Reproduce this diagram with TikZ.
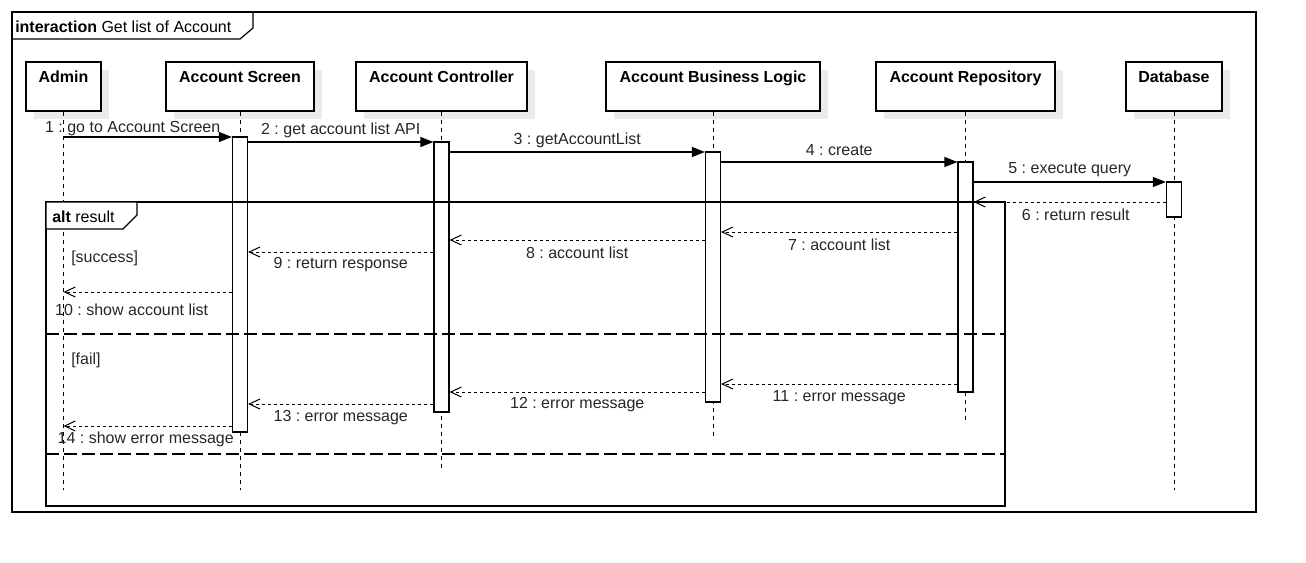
\documentclass[tikz,border=0pt]{standalone}
\usepackage{fontspec}
\setmainfont{Liberation Sans}
\usetikzlibrary{arrows.meta,shadows}
\frenchspacing
\newcommand{\seqfont}{\fontsize{12}{14}\selectfont}
\tikzset{
  head/.style={ draw, fill=white, line width=0.9pt, minimum height=36.75pt, inner sep=0pt,
    drop shadow={shadow xshift=6pt, shadow yshift=-6pt, fill=black!8, opacity=1} }
}
\tikzset{
  headtxt/.style={ font=\seqfont\bfseries, anchor=center, text height=8.6pt, text depth=0pt,
    inner sep=0pt, yshift=-11.5pt }
}
\tikzset{
  act/.style={ draw, fill=white, line width=0.9pt, minimum width=11.25pt, inner sep=0pt }
}
\tikzset{
  lifeline/.style={ line width=0.75pt, dash pattern=on 3pt off 3pt }
}
\tikzset{
  sync/.style={ line width=0.9pt, -{Triangle[length=9.75pt, width=7.5pt]} },
  reply/.style={ line width=0.75pt, dash pattern=on 2.25pt off 2.25pt,
    -{Straight Barb[length=8pt, width=7.5pt]} },
  lbl/.style={ midway, text=black!85, inner sep=1pt },
  frame/.style={ line width=0.9pt },
  sep/.style={ line width=0.9pt, dash pattern=on 9.75pt off 3.75pt }
}

\begin{document}
\begin{tikzpicture}[x=0.75pt, y=-0.75pt, every node/.style={font=\seqfont}]
  \useasboundingbox (0,0) rectangle (1306,562);
  % lifeline heads
  \node[head, minimum width=56.25pt, label={[headtxt]north:Admin}] (admin) at (63.5,86.5) {};
  \node[head, minimum width=111pt, label={[headtxt]north:Account Screen}] (screen) at (240,86.5) {};
  \node[head, minimum width=128.25pt, label={[headtxt]north:Account Controller}] (ctrl) at (441.5,86.5) {};
  \node[head, minimum width=160.5pt, label={[headtxt]north:Account Business Logic}] (logic) at (713,86.5) {};
  \node[head, minimum width=134.25pt, label={[headtxt]north:Account Repository}] (repo) at (965.5,86.5) {};
  \node[head, minimum width=72pt, label={[headtxt]north:Database}] (db) at (1174,86.5) {};
  % lifelines
  \coordinate (adminEnd) at (63.5,490);
  \coordinate (screenEnd) at (240,490);
  \coordinate (ctrlEnd) at (441.5,468);
  \coordinate (logicEnd) at (713,438);
  \coordinate (repoEnd) at (965.5,422);
  \coordinate (dbEnd) at (1174,490);
  \draw[lifeline] (admin.south) -- (adminEnd);
  \draw[lifeline] (screen.south) -- (screenEnd);
  \draw[lifeline] (ctrl.south) -- (ctrlEnd);
  \draw[lifeline] (logic.south) -- (logicEnd);
  \draw[lifeline] (repo.south) -- (repoEnd);
  \draw[lifeline] (db.south) -- (dbEnd);
  % activations
  \node[act, minimum height=221.25pt] (screenAct) at (240,284.5) {};
  \node[act, minimum height=202.5pt] (ctrlAct) at (441.5,277) {};
  \node[act, minimum height=187.5pt] (logicAct) at (713,277) {};
  \node[act, minimum height=172.5pt] (repoAct) at (965.5,277) {};
  \node[act, minimum height=26.25pt] (dbAct) at (1174,199.5) {};
  % frames
  \draw[frame] (12,12) rectangle (1256,512);
  \draw[frame] (12,39) -- (240,39) -- (253,28) -- (253,12);
  \node[anchor=west, inner sep=0pt] (title) at (15,26.5) {\textbf{interaction} Get list of Account};
  \draw[frame] (46,202) rectangle (1005,506);
  \filldraw[frame, fill=white] (46,202) -- (137,202) -- (137,215) -- (123,229) -- (46,229) -- cycle;
  \node[anchor=west, inner sep=0pt] (altTitle) at (52,216.5) {\textbf{alt} result};
  \draw[sep] (46,334) -- (1005,334);
  \draw[sep] (46,454) -- (1005,454);
  \node[anchor=west, inner sep=0pt, text=black!85] (gSuccess) at (71,258) {[success]};
  \node[anchor=west, inner sep=0pt, text=black!85] (gFail) at (71,360) {[fail]};
  % messages
  \coordinate (m1) at (0,137);
  \coordinate (m2) at (0,142);
  \coordinate (m3) at (0,152);
  \coordinate (m4) at (0,162);
  \coordinate (m5) at (0,182);
  \coordinate (m6) at (0,202);
  \coordinate (m7) at (0,232);
  \coordinate (m8) at (0,240);
  \coordinate (m9) at (0,252);
  \coordinate (m10) at (0,292);
  \coordinate (m11) at (0,384);
  \coordinate (m12) at (0,392);
  \coordinate (m13) at (0,404);
  \coordinate (m14) at (0,426);
  \draw[sync] (admin |- m1) -- (screenAct.west |- m1) node[lbl, yshift=6pt, xshift=-11.25pt] {1 : go to Account Screen};
  \draw[sync] (screenAct.east |- m2) -- (ctrlAct.west |- m2) node[lbl, yshift=9pt] {2 : get account list API};
  \draw[sync] (ctrlAct.east |- m3) -- (logicAct.west |- m3) node[lbl, yshift=9pt] {3 : getAccountList};
  \draw[sync] (logicAct.east |- m4) -- (repoAct.west |- m4) node[lbl, yshift=9pt] {4 : create};
  \draw[sync] (repoAct.east |- m5) -- (dbAct.west |- m5) node[lbl, yshift=9pt] {5 : execute query};
  \draw[reply] (dbAct.west |- m6) -- (repoAct.east |- m6) node[lbl, yshift=-9.75pt, xshift=4.5pt] {6 : return result};
  \draw[reply] (repoAct.west |- m7) -- (logicAct.east |- m7) node[lbl, yshift=-9.75pt] {7 : account list};
  \draw[reply] (logicAct.west |- m8) -- (ctrlAct.east |- m8) node[lbl, yshift=-9.75pt] {8 : account list};
  \draw[reply] (ctrlAct.west |- m9) -- (screenAct.east |- m9) node[lbl, yshift=-9.75pt] {9 : return response};
  \draw[reply] (screenAct.west |- m10) -- (admin |- m10) node[lbl, yshift=-13.5pt, xshift=-12pt] {10 : show account list};
  \draw[reply] (repoAct.west |- m11) -- (logicAct.east |- m11) node[lbl, yshift=-10.5pt] {11 : error message};
  \draw[reply] (logicAct.west |- m12) -- (ctrlAct.east |- m12) node[lbl, yshift=-9.75pt] {12 : error message};
  \draw[reply] (ctrlAct.west |- m13) -- (screenAct.east |- m13) node[lbl, yshift=-10.5pt] {13 : error message};
  \draw[reply] (screenAct.west |- m14) -- (admin |- m14) node[lbl, yshift=-9.75pt, xshift=-1.5pt] {14 : show error message};
\end{tikzpicture}
\end{document}
